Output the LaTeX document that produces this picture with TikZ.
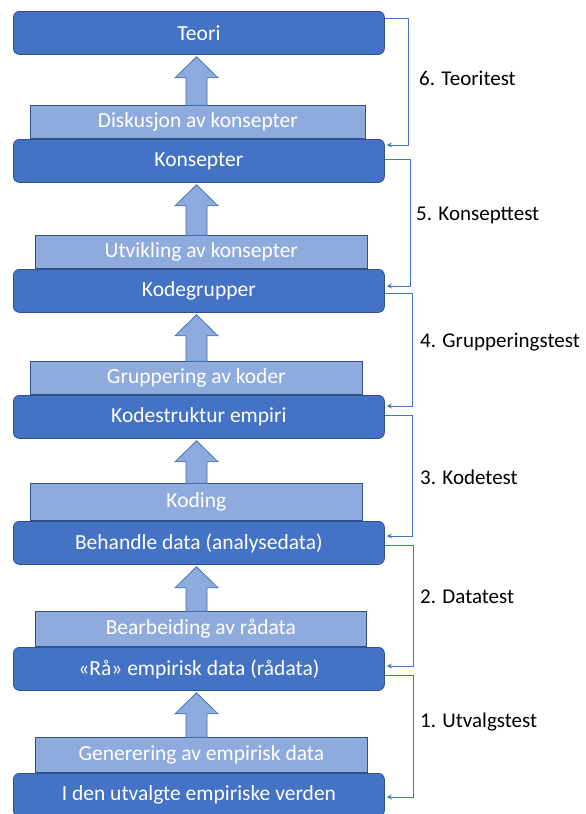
\documentclass[tikz,border=0pt]{standalone}
\usepackage{fontspec}
\setmainfont{Carlito}
\usetikzlibrary{calc,arrows.meta}
\definecolor{dk}{HTML}{4472C4}
\definecolor{dkb}{HTML}{2F528F}
\definecolor{lt}{HTML}{8FAADC}
\tikzset{
  darkbox/.style={draw=dkb, line width=0.8pt, fill=dk, rounded corners=6pt, text=white,
    font=\fontsize{21.5}{24}\selectfont, minimum width=371pt, minimum height=43pt, anchor=north west, inner sep=0pt},
  lightbox/.style={draw=dkb, line width=0.7pt, fill=lt, text=white,
    font=\fontsize{21.5}{24}\selectfont, anchor=south west, inner sep=0pt},
  conn/.style={draw=dk, line width=1pt, -{Stealth[length=5pt,width=5pt]}, shorten >=2pt},
  lbl/.style={font=\fontsize{21}{24}\selectfont, text=black, anchor=west, inner sep=0pt},
  barrow/.style={draw=dk, fill=lt, line width=0.8pt, line join=miter}
}
\newcommand\blockup[2]{%
  \path[barrow] let \p1=(#1.north), \p2=(#2.south) in
    (186pt,\y1) -- (186pt,\y2-23pt) -- (175pt,\y2-23pt) -- (196.5pt,\y2-2pt)
    -- (218pt,\y2-23pt) -- (207pt,\y2-23pt) -- (207pt,\y1) -- cycle;}
\begin{document}
\begin{tikzpicture}[x=1pt,y=-1pt]
\useasboundingbox (0,0) rectangle (586,814);
% light boxes
\node[lightbox, minimum width=335pt, minimum height=33pt] (disk) at (30,139) {Diskusjon av konsepter};
\node[lightbox, minimum width=332pt, minimum height=33pt] (utv) at (35,269) {Utvikling av konsepter};
\node[lightbox, minimum width=332pt, minimum height=33pt] (grupp) at (30,395) {Gruppering av koder};
\node[lightbox, minimum width=332pt, minimum height=37pt] (kod) at (30,521) {Koding};
\node[lightbox, minimum width=331pt, minimum height=35pt] (bearb) at (35,647) {Bearbeiding av rådata};
\node[lightbox, minimum width=332pt, minimum height=35pt] (gen) at (35,773) {Generering av empirisk data};
% dark boxes
\node[darkbox] (teori) at (13,11) {Teori};
\node[darkbox] (kons) at (13,139) {Konsepter};
\node[darkbox] (kodeg) at (13,269) {Kodegrupper};
\node[darkbox] (kodes) at (13,395) {Kodestruktur empiri};
\node[darkbox] (beh) at (13,521) {Behandle data (analysedata)};
\node[darkbox] (raa) at (13,647) {«Rå» empirisk data (rådata)};
\node[darkbox] (verden) at (13,773) {I den utvalgte empiriske verden};
% block arrows
\blockup{disk}{teori}
\blockup{utv}{kons}
\blockup{grupp}{kodeg}
\blockup{kod}{kodes}
\blockup{bearb}{beh}
\blockup{gen}{raa}
% test connectors
\draw[conn] ([yshift=-7pt]teori.north east) -- ++(24pt,0) |- ([yshift=-6pt]kons.north east);
\draw[conn] ([yshift=-20pt]kons.north east) -- ++(26pt,0) |- ([yshift=-17pt]kodeg.north east);
\draw[conn] ([yshift=-24pt]kodeg.north east) -- ++(28pt,0) |- ([yshift=-11pt]kodes.north east);
\draw[conn] ([yshift=-20pt]kodes.north east) -- ++(28pt,0) |- ([yshift=-15pt]beh.north east);
\draw[conn] ([yshift=-24pt]beh.north east) -- ++(29pt,0) |- ([yshift=-19pt]raa.north east);
\draw[conn] ([yshift=-28pt]raa.north east) -- ++(29pt,0) |- ([yshift=-24pt]verden.north east);
% labels
\node[lbl] (l6) at (419,78) {6. Teoritest};
\node[lbl] (l5) at (416,215) {5. Konsepttest};
\node[lbl] (l4) at (420,342) {4. Grupperingstest};
\node[lbl] (l3) at (420,477) {3. Kodetest};
\node[lbl] (l2) at (420,597) {2. Datatest};
\node[lbl] (l1) at (420,722) {1. Utvalgstest};
\end{tikzpicture}
\end{document}
